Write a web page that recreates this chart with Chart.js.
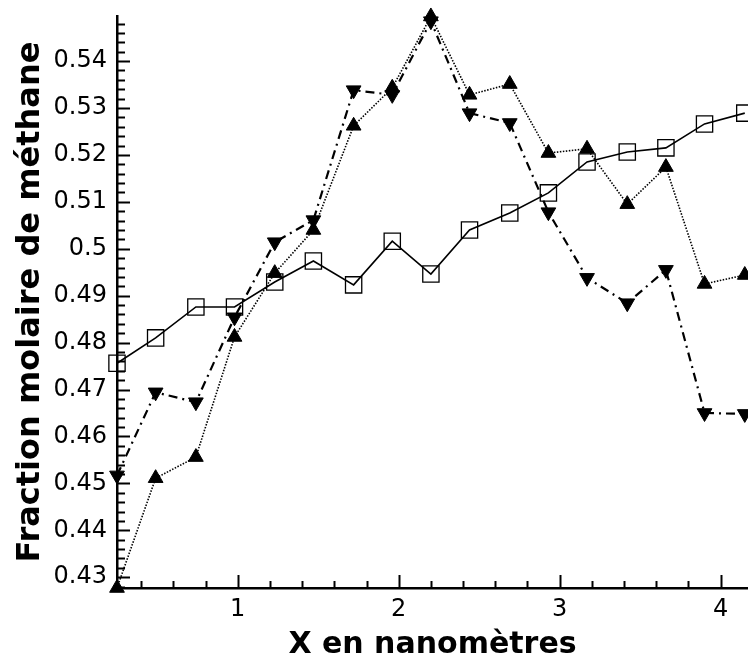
<!DOCTYPE html>
<html>
<head>
<meta charset="utf-8">
<style>
  html, body { margin: 0; padding: 0; background: #fff; }
  #wrap { width: 748px; height: 668px; position: relative; }
</style>
<script src="https://cdn.jsdelivr.net/npm/chart.js@4.4.1/dist/chart.umd.min.js"></script>
</head>
<body>
<div id="wrap"><canvas id="chartMethane"></canvas></div>
<script>
// Positions along the pore (nm)
const positions = [0.25, 0.49, 0.74, 0.98, 1.23, 1.47, 1.72, 1.96, 2.2, 2.44, 2.69, 2.93, 3.17, 3.42, 3.66, 3.9, 4.15];

// Methane mole fraction, one array per curve
const squareSeries = [0.4756, 0.481, 0.4876, 0.4876, 0.4929, 0.4974, 0.4923, 0.5016, 0.4946, 0.504, 0.5076, 0.5119, 0.5185, 0.5206, 0.5215, 0.5266, 0.5289];
const upSeries = [0.4277, 0.4511, 0.4556, 0.4812, 0.4948, 0.504, 0.5262, 0.5343, 0.5495, 0.5328, 0.5351, 0.5204, 0.5213, 0.5095, 0.5174, 0.4925, 0.4944];
const downSeries = [0.4517, 0.4694, 0.4673, 0.4854, 0.5014, 0.5061, 0.5338, 0.5328, 0.5485, 0.5289, 0.5268, 0.5078, 0.4938, 0.4884, 0.4955, 0.465, 0.4648];

// Axis ranges and tick steps
const xRange = [0.25, 4.17];
const yRange = [0.4277, 0.5496];
const xMajorStep = 1, xMinorStep = 0.2;
const yMajorStep = 0.01, yMinorStep = 0.002;

function toPoints(values) {
    return values.map((v, i) => ({ x: positions[i], y: v }));
}

function isMajor(value, step) {
    const r = value / step;
    return Math.abs(r - Math.round(r)) < 1e-6;
}

// Tick marks pointing into the plot, like the original figure
const innerTicks = {
    id: 'innerTicks',
    afterDraw(chart) {
        const { ctx, scales: { x, y } } = chart;
        ctx.save();
        ctx.strokeStyle = '#000';
        ctx.lineWidth = 2;
        y.ticks.forEach(t => {
            const py = Math.round(y.getPixelForValue(t.value)) + 0.5;
            const len = isMajor(t.value, yMajorStep) ? 13 : 8;
            ctx.beginPath();
            ctx.moveTo(x.left, py);
            ctx.lineTo(x.left + len, py);
            ctx.stroke();
        });
        x.ticks.forEach(t => {
            const px = Math.round(x.getPixelForValue(t.value)) + 0.5;
            const len = isMajor(t.value, xMajorStep) ? 13 : 7;
            ctx.beginPath();
            ctx.moveTo(px, y.bottom);
            ctx.lineTo(px, y.bottom - len);
            ctx.stroke();
        });
        ctx.restore();
    }
};

const tickFont = { family: "'DejaVu Sans', sans-serif", size: 24 };
const titleFamily = "'DejaVu Sans', sans-serif";

new Chart(document.getElementById('chartMethane'), {
    type: 'line',
    data: {
        datasets: [
            {
                label: 'carrés',
                data: toPoints(squareSeries),
                borderColor: '#000',
                borderWidth: 1.6,
                pointStyle: 'rect',
                pointRadius: 11.5,
                pointBackgroundColor: 'rgba(0,0,0,0)',
                pointBorderColor: '#000',
                pointBorderWidth: 1.3,
                clip: false
            },
            {
                label: 'triangles haut',
                data: toPoints(upSeries),
                borderColor: '#000',
                borderWidth: 1.6,
                borderDash: [1.5, 1.5],
                pointStyle: 'triangle',
                pointRadius: 8.5,
                pointBackgroundColor: '#000',
                pointBorderColor: '#000',
                pointBorderWidth: 1,
                clip: false
            },
            {
                label: 'triangles bas',
                data: toPoints(downSeries),
                borderColor: '#000',
                borderWidth: 2.2,
                borderDash: [9, 5, 2, 5],
                pointStyle: 'triangle',
                pointRotation: 180,
                pointRadius: 8.5,
                pointBackgroundColor: '#000',
                pointBorderColor: '#000',
                pointBorderWidth: 1,
                clip: false
            }
        ]
    },
    options: {
        responsive: true,
        maintainAspectRatio: false,
        animation: false,
        layout: { autoPadding: false, padding: { top: 16, right: 0, left: 0, bottom: 0 } },
        plugins: {
            legend: { display: false },
            tooltip: { enabled: false }
        },
        elements: { line: { tension: 0 } },
        scales: {
            x: {
                type: 'linear',
                min: xRange[0],
                max: xRange[1],
                afterFit: s => { s.height = 80; s.paddingLeft = 0; s.paddingRight = 0; },
                border: { display: true, color: '#000', width: 2.5 },
                grid: { display: false, drawTicks: false },
                ticks: {
                    stepSize: xMinorStep,
                    includeBounds: false,
                    autoSkip: false,
                    maxRotation: 0,
                    padding: 7,
                    color: '#000',
                    font: tickFont,
                    callback: v => isMajor(v, xMajorStep) ? String(Math.round(v)) : ''
                },
                title: {
                    display: true,
                    text: 'X en nanomètres',
                    color: '#000',
                    font: { family: titleFamily, size: 30, weight: 'bold' },
                    padding: { top: 0, bottom: 5 }
                }
            },
            y: {
                type: 'linear',
                min: yRange[0],
                max: yRange[1],
                afterFit: s => { s.width = 117; s.paddingTop = 0; s.paddingBottom = 0; },
                border: { display: true, color: '#000', width: 2.5 },
                grid: { display: false, drawTicks: false },
                ticks: {
                    stepSize: yMinorStep,
                    includeBounds: false,
                    autoSkip: false,
                    padding: 10,
                    color: '#000',
                    font: tickFont,
                    callback: v => isMajor(v, yMajorStep) ? String(Math.round(v * 100) / 100) : ''
                },
                title: {
                    display: true,
                    text: 'Fraction molaire de méthane',
                    color: '#000',
                    font: { family: titleFamily, size: 32, weight: 'bold' },
                    padding: { top: 11, bottom: 0 }
                }
            }
        }
    },
    plugins: [innerTicks]
});
</script>
</body>
</html>
